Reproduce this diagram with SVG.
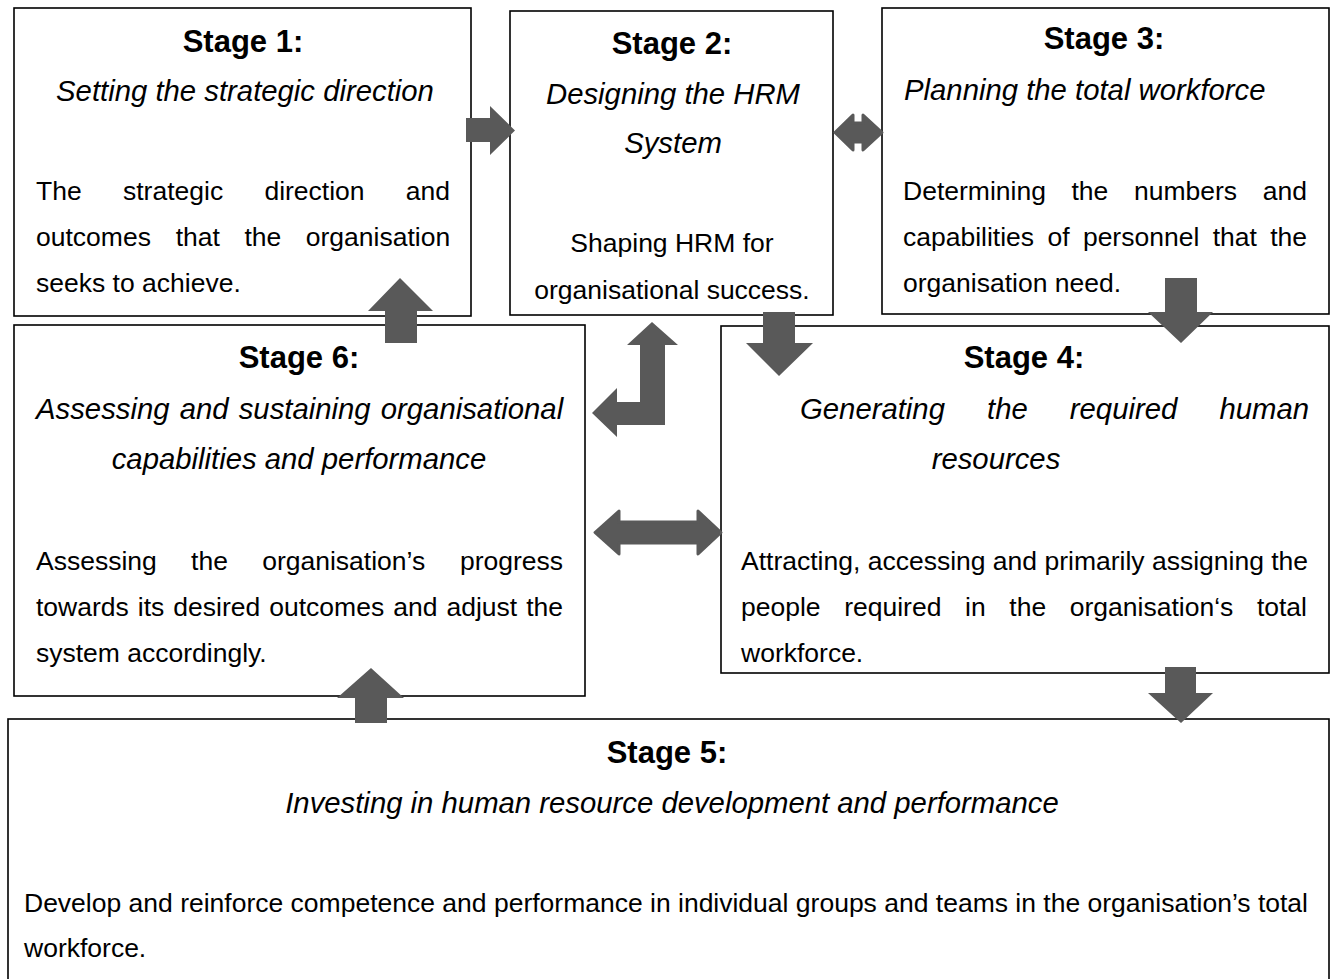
<svg xmlns="http://www.w3.org/2000/svg" width="1335" height="979" viewBox="0 0 1335 979">
  <style>
    .box { fill: #ffffff; stroke: #000000; stroke-width: 1.6; }
    .hd { font-family: "Liberation Sans", Arial, sans-serif; font-weight: bold; font-size: 31px; fill: #000; text-anchor: middle; }
    .it { font-family: "Liberation Sans", Arial, sans-serif; font-style: italic; font-size: 29.3px; fill: #000; }
    .bd { font-family: "Liberation Sans", Arial, sans-serif; font-size: 26.5px; fill: #000; }
    .mid { text-anchor: middle; }
    .arrow { fill: #595959; stroke: none; }
    .arrow-r { fill: #595959; stroke: #595959; stroke-width: 3; stroke-linejoin: round; }
  </style>
  <rect width="1335" height="979" fill="#ffffff"/>

  <!-- Stage 1 -->
  <g id="stage1">
    <rect class="box" x="14" y="8" width="457" height="308"/>
    <text class="hd" x="243" y="52">Stage 1:</text>
    <text class="it mid" x="245" y="101">Setting the strategic direction</text>
    <text class="bd" y="200"><tspan x="36">The</tspan><tspan x="123">strategic</tspan><tspan x="264.4">direction</tspan><tspan x="405.8">and</tspan></text>
    <text class="bd" y="246"><tspan x="36">outcomes</tspan><tspan x="175.7">that</tspan><tspan x="244.4">the</tspan><tspan x="305.8">organisation</tspan></text>
    <text class="bd" x="36" y="292">seeks to achieve.</text>
  </g>

  <!-- Stage 2 -->
  <g id="stage2">
    <rect class="box" x="510" y="11" width="323" height="304"/>
    <text class="hd" x="672" y="54">Stage 2:</text>
    <text class="it mid" x="673" y="104">Designing the HRM</text>
    <text class="it mid" x="673" y="153">System</text>
    <text class="bd mid" x="672" y="252">Shaping HRM for</text>
    <text class="bd mid" x="672" y="299">organisational success.</text>
  </g>

  <!-- Stage 3 -->
  <g id="stage3">
    <rect class="box" x="882" y="8" width="447" height="306"/>
    <text class="hd" x="1104" y="49">Stage 3:</text>
    <text class="it" x="904" y="100">Planning the total workforce</text>
    <text class="bd" y="200"><tspan x="903">Determining</tspan><tspan x="1071.5">the</tspan><tspan x="1134">numbers</tspan><tspan x="1262.8">and</tspan></text>
    <text class="bd" y="246"><tspan x="903">capabilities</tspan><tspan x="1047.5">of</tspan><tspan x="1082.9">personnel</tspan><tspan x="1212.7">that</tspan><tspan x="1270.2">the</tspan></text>
    <text class="bd" x="903" y="292">organisation need.</text>
  </g>

  <!-- Stage 6 -->
  <g id="stage6">
    <rect class="box" x="14" y="325" width="571" height="371"/>
    <text class="hd" x="299" y="368">Stage 6:</text>
    <text class="it" x="36" y="419" word-spacing="2">Assessing and sustaining organisational</text>
    <text class="it mid" x="299" y="469">capabilities and performance</text>
    <text class="bd" y="570"><tspan x="36">Assessing</tspan><tspan x="191.1">the</tspan><tspan x="262.2">organisation’s</tspan><tspan x="460">progress</tspan></text>
    <text class="bd" x="36" y="616" word-spacing="1.66">towards its desired outcomes and adjust the</text>
    <text class="bd" x="36" y="662">system accordingly.</text>
  </g>

  <!-- Stage 4 -->
  <g id="stage4">
    <rect class="box" x="721" y="326" width="608" height="347"/>
    <text class="hd" x="1024" y="368">Stage 4:</text>
    <text class="it" y="419"><tspan x="800">Generating</tspan><tspan x="987">the</tspan><tspan x="1069.8">required</tspan><tspan x="1219.4">human</tspan></text>
    <text class="it mid" x="996" y="469">resources</text>
    <text class="bd" x="741" y="570">Attracting, accessing and primarily assigning the</text>
    <text class="bd" y="616"><tspan x="741">people</tspan><tspan x="844.2">required</tspan><tspan x="965.1">in</tspan><tspan x="1009.3">the</tspan><tspan x="1069.8">organisation‘s</tspan><tspan x="1256.9">total</tspan></text>
    <text class="bd" x="741" y="662">workforce.</text>
  </g>

  <!-- Stage 5 -->
  <g id="stage5">
    <rect class="box" x="8" y="719" width="1321" height="300"/>
    <text class="hd" x="667" y="763">Stage 5:</text>
    <text class="it mid" x="672" y="813">Investing in human resource development and performance</text>
    <text class="bd" x="24" y="912" textLength="1284" lengthAdjust="spacing">Develop and reinforce competence and performance in individual groups and teams in the organisation’s total</text>
    <text class="bd" x="24" y="957">workforce.</text>
  </g>

  <!-- Block arrows between stages -->
  <g id="connectors">
    <!-- 1 to 2 -->
    <polygon class="arrow" points="466,118 490,118 490,106 515,130.5 490,155 490,142 466,142"/>
    <!-- 2 and 3, both ways -->
    <polygon class="arrow-r" points="835,132.5 853,115 853,123 863,123 863,115 882,132.5 863,150 863,142 853,142 853,150"/>
    <!-- 2 up / 6 left, bent -->
    <polygon class="arrow" points="652,322 678,345 665,345 665,425 617,425 617,437 592,413 617,388 617,402 640,402 640,345 627,345"/>
    <!-- 2 down to 4 -->
    <polygon class="arrow" points="763,312 795,312 795,343 813,343 779,376 746,343 763,343"/>
    <!-- 3 down to 4 -->
    <polygon class="arrow" points="1165,278 1197,278 1197,312 1213,312 1181,343 1148,312 1165,312"/>
    <!-- 6 up to 1 -->
    <polygon class="arrow" points="400,278 433,311 417,311 417,343 385,343 385,311 368,311"/>
    <!-- 6 and 4, both ways -->
    <polygon class="arrow-r" points="595,532.5 619,511 619,522 698,522 698,511 721,532.5 698,554 698,543 619,543 619,554"/>
    <!-- 4 down to 5 -->
    <polygon class="arrow" points="1165,667 1196,667 1196,693 1213,693 1181,723 1148,693 1165,693"/>
    <!-- 5 up to 6 -->
    <polygon class="arrow" points="371,668 404,698 387,698 387,723 355,723 355,698 337,698"/>
  </g>
</svg>
